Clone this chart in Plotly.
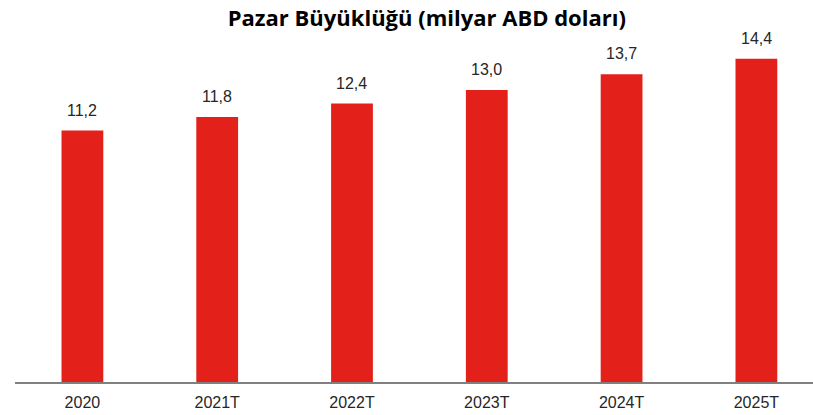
import plotly.graph_objects as go

# Market size, billion USD (T = forecast)
years = ["2020", "2021T", "2022T", "2023T", "2024T", "2025T"]
market_size = [11.2, 11.8, 12.4, 13.0, 13.7, 14.4]
value_labels = [f"{v:.1f}".replace(".", ",") for v in market_size]

BAR_RED = "#E3201A"
TEXT = "#262626"

fig = go.Figure(
    go.Bar(
        x=years,
        y=market_size,
        marker=dict(color=BAR_RED, line=dict(width=0)),
        width=0.31,
        hoverinfo="skip",
    )
)

# value labels above each bar (category index keeps "2020" from being read as a number)
for i, (v, lab) in enumerate(zip(market_size, value_labels)):
    fig.add_annotation(
        x=i, y=v, text=lab, showarrow=False,
        yanchor="bottom", yshift=10,
        font=dict(family="Liberation Sans, Arial", size=16, color=TEXT),
    )

fig.update_layout(
    width=813,
    height=415,
    margin=dict(l=15, r=0, t=40, b=33),
    paper_bgcolor="white",
    plot_bgcolor="white",
    showlegend=False,
    title=dict(
        text="<b>Pazar Büyüklüğü (milyar ABD doları)</b>",
        x=0.525, xanchor="center",
        y=0.955, yanchor="middle",
        font=dict(family="Open Sans, Lato, sans-serif", size=22, color="#000000"),
    ),
    xaxis=dict(
        type="category",
        range=[-0.5, 5.42],
        showgrid=False,
        showline=True,
        linecolor="#808080",
        linewidth=1.5,
        ticks="",
        ticklabelstandoff=5,
        tickfont=dict(family="Liberation Sans, Arial", size=16, color=TEXT),
    ),
    yaxis=dict(
        range=[0, 15.23],
        visible=False,
        showgrid=False,
        zeroline=False,
    ),
)

fig.write_html("out.html")
